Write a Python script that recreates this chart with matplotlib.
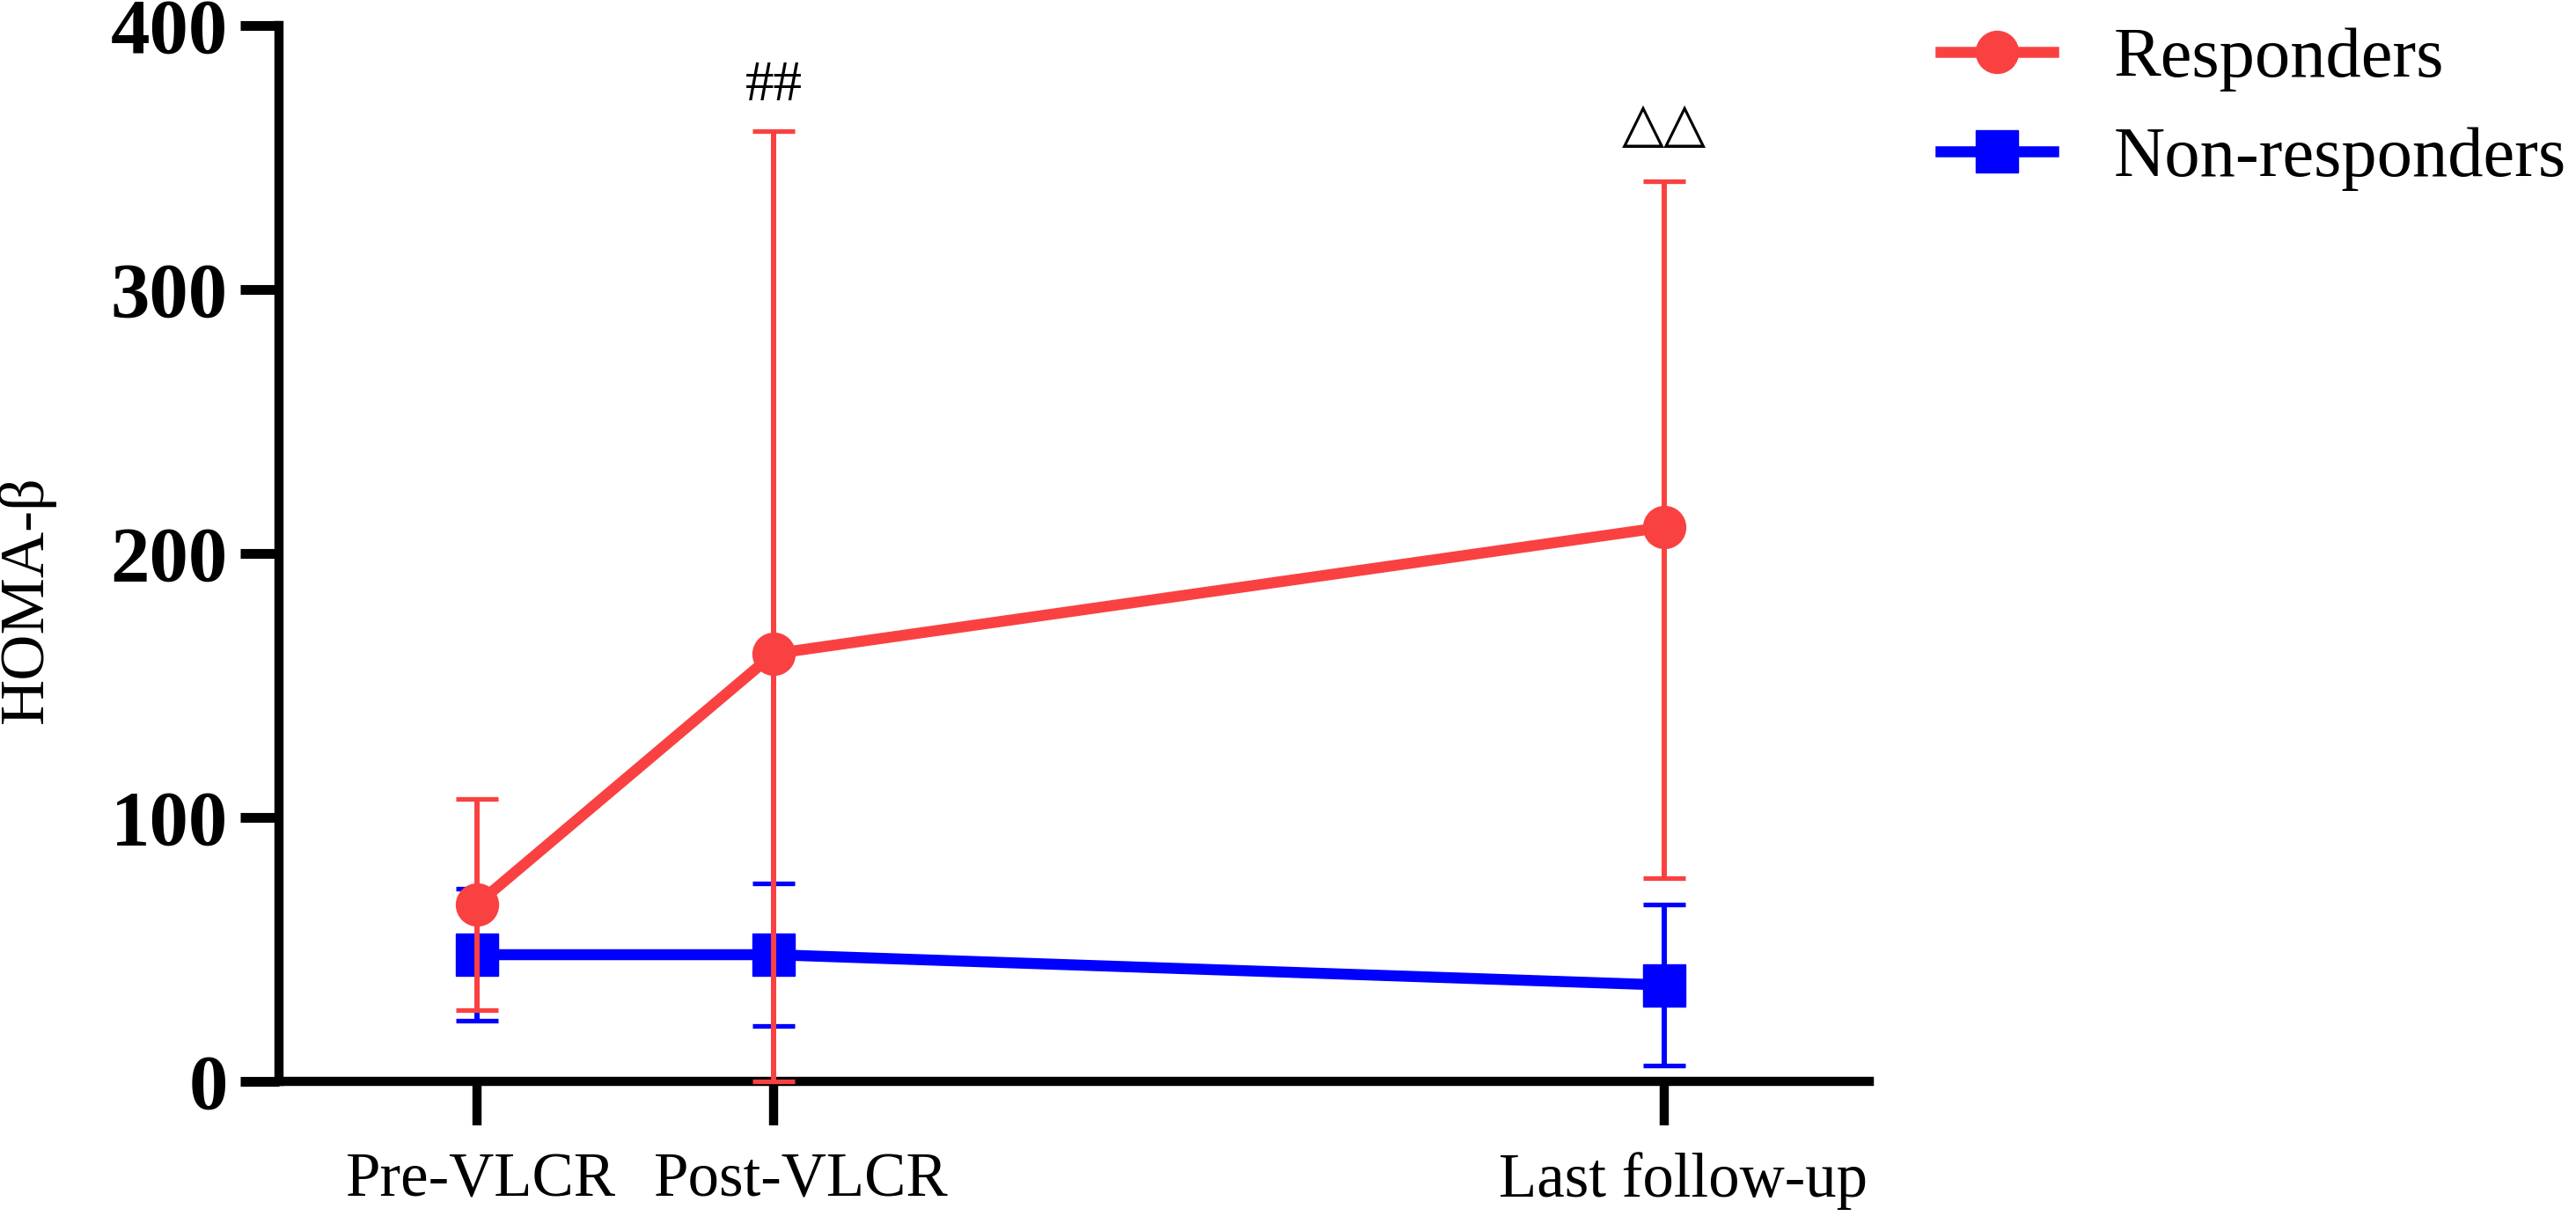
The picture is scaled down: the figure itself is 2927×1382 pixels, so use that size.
import matplotlib
matplotlib.use('Agg')
import matplotlib.pyplot as plt
import matplotlib.transforms as mtransforms

# timepoints and HOMA-beta values
timepoints = ['Pre-VLCR', 'Post-VLCR', 'Last follow-up']
x_pos = [0, 1, 4]

resp_mean = [67, 162, 210]
resp_upper = [107, 360, 341]
resp_lower = [27, 0, 77]

nonresp_mean = [48, 48, 36.5]
nonresp_upper = [73, 75, 67]
nonresp_lower = [23, 21, 6]

y_ticks = [0, 100, 200, 300, 400]

red = '#FA4141'
blue = '#0000FF'

plt.rcParams['font.family'] = ['Liberation Serif', 'DejaVu Sans']

fig = plt.figure(figsize=(29.27, 13.82), dpi=100)
ax = fig.add_axes([0.1083, 0.1107, 0.6174, 0.8683])

def err(mean, lo, hi):
    return [[m - l for m, l in zip(mean, lo)], [h - m for m, h in zip(mean, hi)]]

# non-responders first so responders sit on top
ax.errorbar(x_pos, nonresp_mean, yerr=err(nonresp_mean, nonresp_lower, nonresp_upper),
            fmt='none', ecolor=blue, elinewidth=4.3, capsize=17, capthick=3.8,
            zorder=3, clip_on=False)
ax.plot(x_pos, nonresp_mean, color=blue, lw=9, marker='s', ms=34.5,
        label='Non-responders', zorder=4, clip_on=False)

ax.errorbar(x_pos, resp_mean, yerr=err(resp_mean, resp_lower, resp_upper),
            fmt='none', ecolor=red, elinewidth=4.3, capsize=17, capthick=3.8,
            zorder=5, clip_on=False)
ax.plot(x_pos, resp_mean, color=red, lw=9, marker='o', ms=34.5,
        label='Responders', zorder=6, clip_on=False)

ax.set_xlim(-0.666, 4.69)
ax.set_ylim(0, 400)
ax.set_yticks(y_ticks)
ax.set_yticklabels([str(v) for v in y_ticks], fontweight='bold', fontsize=64)
ax.set_xticks(x_pos)
ax.set_xticklabels(timepoints, fontsize=51)

ax.tick_params(axis='y', length=32, width=8, pad=10)
ax.tick_params(axis='x', length=36, width=7.5, pad=22)

# labels in the original sit slightly right of their ticks
shifts = [5, 31, 21]
for lbl, dx in zip(ax.get_xticklabels(), shifts):
    lbl.set_transform(lbl.get_transform() +
                      mtransforms.ScaledTranslation(dx / 100, 0, fig.dpi_scale_trans))

for s in ['top', 'right']:
    ax.spines[s].set_visible(False)
for s in ['left', 'bottom']:
    ax.spines[s].set_linewidth(7.5)
    ax.spines[s].set_capstyle('projecting')

fig.text(30 / 2927, 1 - 681 / 1382, 'HOMA-β', rotation=90, fontsize=52,
         ha='center', va='center')

ax.text(1, 377, '##', fontsize=47, ha='center', va='center')
ax.text(4, 362, '△△', fontsize=45, ha='center', va='center',
        family='DejaVu Sans', fontweight='bold')

handles, labels = ax.get_legend_handles_labels()
ax.legend(handles[::-1], labels[::-1], loc='upper left',
          bbox_to_anchor=(0.7533, 0.978), bbox_transform=fig.transFigure,
          frameon=False, fontsize=58, handlelength=1.59, handletextpad=0.85,
          labelspacing=0.5, borderpad=0, borderaxespad=0)

fig.savefig('out.png', dpi=100)
